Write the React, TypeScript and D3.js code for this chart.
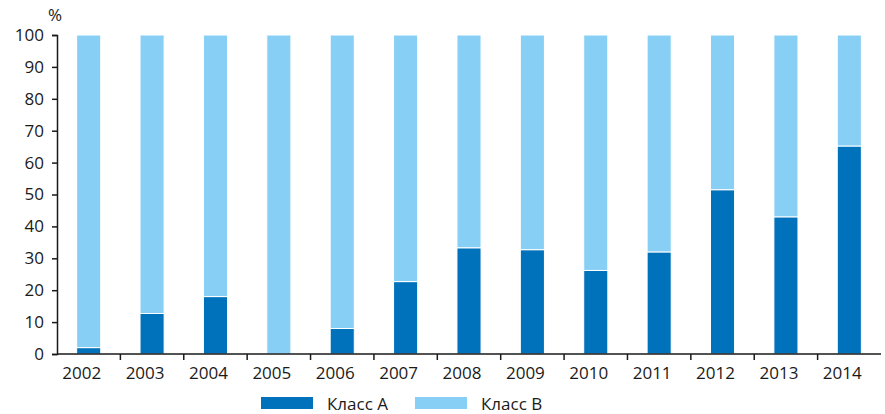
import React, { useEffect, useRef } from 'react';
import * as d3 from 'd3';

const years = ['2002', '2003', '2004', '2005', '2006', '2007', '2008', '2009', '2010', '2011', '2012', '2013', '2014'];
const classA = [2, 12.7, 18, 0, 8, 22.7, 33.3, 32.7, 26.2, 32, 51.5, 43, 65.2];
const yTicks = [0, 10, 20, 30, 40, 50, 60, 70, 80, 90, 100];
const seriesNames = ['Класс А', 'Класс В'];

const colorA = '#0071bb';
const colorB = '#88cff5';
const font = '"Open Sans", "Noto Sans", sans-serif';
const fontSize = 17;

const App: React.FC = () => {
  const svgRef = useRef<SVGSVGElement | null>(null);

  useEffect(() => {
    if (!svgRef.current) return;
    const width = 885;
    const height = 414;
    const margin = { left: 57, right: 4, top: 35, bottom: 60 };

    const svg = d3.select(svgRef.current);
    svg.selectAll('*').remove();

    const x = d3.scaleBand()
      .domain(years)
      .range([margin.left, width - margin.right])
      .paddingInner(0.62)
      .paddingOuter(0.31);

    const y = d3.scaleLinear()
      .domain([0, 100])
      .range([height - margin.bottom, margin.top]);

    const rows = years.map((yr, i) => ({ year: yr, a: classA[i], b: 100 - classA[i] }));
    const stack = d3.stack<{ year: string; a: number; b: number }>().keys(['a', 'b']);
    const layers = stack(rows);
    const colors = [colorA, colorB];

    svg.append('g')
      .selectAll('g')
      .data(layers)
      .join('g')
      .attr('fill', (_, i) => colors[i])
      .selectAll('rect')
      .data(d => d)
      .join('rect')
      .attr('x', d => x(d.data.year)!)
      .attr('width', x.bandwidth())
      .attr('y', d => y(d[1]))
      .attr('height', d => Math.max(0, y(d[0]) - y(d[1])))
      .attr('stroke', '#fff')
      .attr('stroke-width', d => (d[1] - d[0] > 0 ? 1 : 0));

    // y axis
    const yAxis = svg.append('g')
      .attr('transform', `translate(${margin.left},0)`)
      .call(d3.axisLeft(y).tickValues(yTicks).tickSize(5).tickPadding(8));
    yAxis.select('.domain').attr('stroke', '#1a1a1a').attr('stroke-width', 1.5);
    yAxis.selectAll('.tick line').attr('stroke', '#1a1a1a').attr('stroke-width', 1.5);
    yAxis.selectAll('.tick text').attr('font-family', font).attr('font-size', fontSize).attr('fill', '#1a1a1a');

    // x axis with ticks at band boundaries
    const x0 = height - margin.bottom;
    svg.append('line')
      .attr('x1', margin.left).attr('x2', width - margin.right)
      .attr('y1', x0).attr('y2', x0)
      .attr('stroke', '#1a1a1a').attr('stroke-width', 1.5);
    const step = x.step();
    svg.append('g')
      .selectAll('line')
      .data(years.slice(1))
      .join('line')
      .attr('x1', d => x(d)! - step * 0.31)
      .attr('x2', d => x(d)! - step * 0.31)
      .attr('y1', x0).attr('y2', x0 + 6)
      .attr('stroke', '#1a1a1a').attr('stroke-width', 1.5);
    svg.append('g')
      .selectAll('text')
      .data(years)
      .join('text')
      .attr('x', d => x(d)! + x.bandwidth() / 2 - 7)
      .attr('y', x0 + 25)
      .attr('text-anchor', 'middle')
      .attr('font-family', font)
      .attr('font-size', fontSize)
      .attr('fill', '#1a1a1a')
      .text(d => d);

    svg.append('text')
      .attr('x', 55).attr('y', 21)
      .attr('text-anchor', 'middle')
      .attr('font-family', font)
      .attr('font-size', fontSize)
      .attr('fill', '#1a1a1a')
      .text('%');

    // legend
    const legendX = [261, 415];
    const legend = svg.append('g')
      .selectAll('g')
      .data(seriesNames)
      .join('g')
      .attr('transform', (_, i) => `translate(${legendX[i]},397)`);
    legend.append('rect')
      .attr('width', 52).attr('height', 12)
      .attr('fill', (_, i) => colors[i]);
    legend.append('text')
      .attr('x', 66).attr('y', 13)
      .attr('font-family', font)
      .attr('font-size', fontSize)
      .attr('fill', '#1a1a1a')
      .text(d => d);
  }, []);

  return <svg ref={svgRef} width={885} height={414} style={{ display: 'block', position: 'absolute', left: 0, top: 0 }}></svg>;
};

export default App;
